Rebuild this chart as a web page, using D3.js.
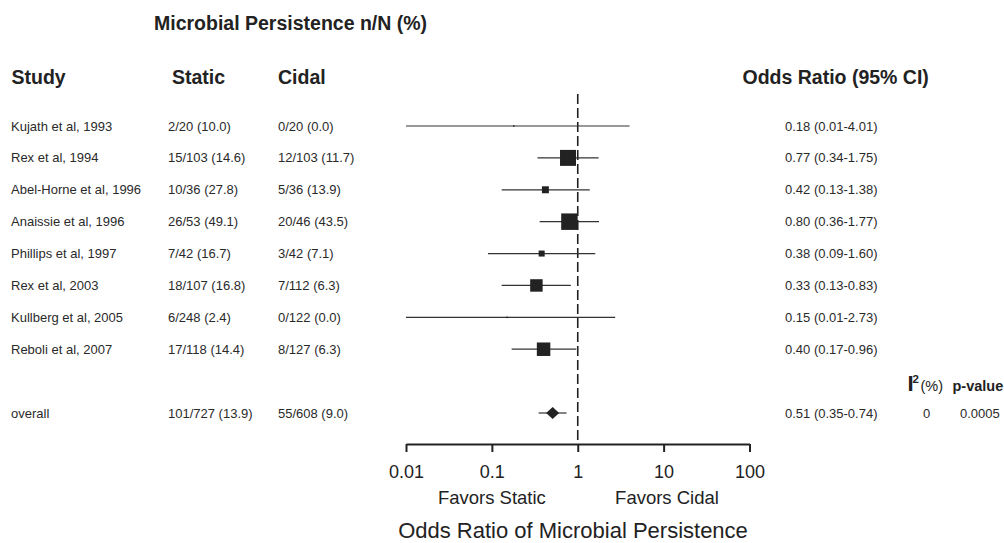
<!DOCTYPE html>
<html>
<head>
<meta charset="utf-8">
<script src="https://cdn.jsdelivr.net/npm/d3@7"></script>
<style>
  html, body { margin: 0; padding: 0; background: #fff; }
  svg { display: block; font-family: "Liberation Sans", Arial, Helvetica, sans-serif; }
</style>
</head>
<body>
<svg id="chart" width="1004" height="543"></svg>
<script>
// ---------- data ----------
const studies = ["Kujath et al, 1993", "Rex et al, 1994", "Abel-Horne et al, 1996", "Anaissie et al, 1996",
                 "Phillips et al, 1997", "Rex et al, 2003", "Kullberg et al, 2005", "Reboli et al, 2007"];
const staticVals = ["2/20 (10.0)", "15/103 (14.6)", "10/36 (27.8)", "26/53 (49.1)",
                    "7/42 (16.7)", "18/107 (16.8)", "6/248 (2.4)", "17/118 (14.4)"];
const cidalVals = ["0/20 (0.0)", "12/103 (11.7)", "5/36 (13.9)", "20/46 (43.5)",
                   "3/42 (7.1)", "7/112 (6.3)", "0/122 (0.0)", "8/127 (6.3)"];
const oddsRatio = [0.18, 0.77, 0.42, 0.80, 0.38, 0.33, 0.15, 0.40];
const ciLow     = [0.01, 0.34, 0.13, 0.36, 0.09, 0.13, 0.01, 0.17];
const ciHigh    = [4.01, 1.75, 1.38, 1.77, 1.60, 0.83, 2.73, 0.96];
const weights   = [0.2, 26.8, 5.1, 28.5, 3.8, 16.3, 0.2, 19.1];   // % weight (box area)

const overallLabel = "overall";
const overallStatic = "101/727 (13.9)";
const overallCidal = "55/608 (9.0)";
const overallOR = 0.51, overallLow = 0.35, overallHigh = 0.74;
const overallI2 = "0";
const overallP = "0.0005";

const tickValues = [0.01, 0.1, 1, 10, 100];
const tickLabels = ["0.01", "0.1", "1", "10", "100"];

// ---------- layout ----------
const svg = d3.select("#chart");
const ink = "#222";
const x = d3.scaleLog().domain([0.01, 100]).range([406, 749.5]);
const rowY = d3.scaleLinear().domain([0, 9]).range([126, 413]);
const boxSize = d3.scaleSqrt().domain([0, 30]).range([0, 16.9]);
const axisY = 444;

const colStudy = 11, colStatic = 168, colCidal = 278, colOR = 785;

// headers
svg.append("text").attr("x", 154).attr("y", 29.5)
  .attr("font-size", 19.5).attr("font-weight", "bold").attr("fill", ink)
  .text("Microbial Persistence n/N (%)");
[["Study", colStudy + 0.5], ["Static", 172], ["Cidal", colCidal]].forEach(([t, xx]) => {
  svg.append("text").attr("x", xx).attr("y", 83.5)
    .attr("font-size", 19.5).attr("font-weight", "bold").attr("fill", ink).text(t);
});
svg.append("text").attr("x", 742.5).attr("y", 83.5)
  .attr("font-size", 19.5).attr("font-weight", "bold").attr("fill", ink)
  .text("Odds Ratio (95% CI)");

// I2 / p-value header
const h = svg.append("g").attr("fill", ink);
h.append("text").attr("x", 907.5).attr("y", 391).attr("font-size", 22).attr("font-weight", "bold").text("I");
h.append("text").attr("x", 912.5).attr("y", 382.5).attr("font-size", 11.5).attr("font-weight", "bold").text("2");
h.append("text").attr("x", 920.5).attr("y", 391).attr("font-size", 14.5).text("(%)");
h.append("text").attr("x", 952.5).attr("y", 391).attr("font-size", 14.5).attr("font-weight", "bold").text("p-value");

// study rows text
const fmt = d3.format(".2f");
const rows = svg.append("g").attr("font-size", 13).attr("fill", "#2a2a2a");
studies.forEach((s, i) => {
  const y = rowY(i) + 4.6;
  rows.append("text").attr("x", colStudy).attr("y", y).text(s);
  rows.append("text").attr("x", colStatic).attr("y", y).text(staticVals[i]);
  rows.append("text").attr("x", colCidal).attr("y", y).text(cidalVals[i]);
  rows.append("text").attr("x", colOR).attr("y", y)
    .text(`${fmt(oddsRatio[i])} (${fmt(ciLow[i])}-${fmt(ciHigh[i])})`);
});
const oy = rowY(9) + 4.6;
rows.append("text").attr("x", colStudy).attr("y", oy).text(overallLabel);
rows.append("text").attr("x", colStatic).attr("y", oy).text(overallStatic);
rows.append("text").attr("x", colCidal).attr("y", oy).text(overallCidal);
rows.append("text").attr("x", colOR).attr("y", oy)
  .text(`${fmt(overallOR)} (${fmt(overallLow)}-${fmt(overallHigh)})`);
rows.append("text").attr("x", 926.5).attr("y", oy).attr("text-anchor", "middle").text(overallI2);
rows.append("text").attr("x", 960).attr("y", oy).text(overallP);

// reference line at OR = 1
svg.append("line")
  .attr("x1", x(1)).attr("x2", x(1)).attr("y1", 94).attr("y2", axisY)
  .attr("stroke", ink).attr("stroke-width", 1.6).attr("stroke-dasharray", "10,4");

// CI lines and boxes
const marks = svg.append("g");
studies.forEach((s, i) => {
  const y = rowY(i);
  marks.append("line")
    .attr("x1", x(ciLow[i])).attr("x2", x(ciHigh[i]))
    .attr("y1", y).attr("y2", y)
    .attr("stroke", "#333").attr("stroke-width", 1.2);
  const b = Math.max(boxSize(weights[i]), 1.5);
  marks.append("rect")
    .attr("x", x(oddsRatio[i]) - b / 2).attr("y", y - b / 2)
    .attr("width", b).attr("height", b).attr("fill", ink);
});

// overall diamond
const yo = rowY(9);
marks.append("line")
  .attr("x1", x(overallLow)).attr("x2", x(overallHigh))
  .attr("y1", yo).attr("y2", yo)
  .attr("stroke", "#333").attr("stroke-width", 1.2);
const cx = x(overallOR);
marks.append("path")
  .attr("d", `M${cx - 6.5},${yo} L${cx},${yo - 6} L${cx + 6.5},${yo} L${cx},${yo + 6} Z`)
  .attr("fill", ink);

// axis
const axis = d3.axisBottom(x)
  .tickValues(tickValues)
  .tickFormat((d, i) => tickLabels[i])
  .tickSize(8).tickSizeOuter(0).tickPadding(13);
const ax = svg.append("g").attr("transform", `translate(0,${axisY})`).call(axis);
ax.select(".domain").attr("stroke", ink).attr("stroke-width", 2);
ax.selectAll(".tick line").attr("stroke", ink).attr("stroke-width", 2);
ax.selectAll(".tick text").attr("font-size", 18).attr("fill", ink)
  .attr("font-family", "'Liberation Sans', Arial, sans-serif");

svg.append("text").attr("x", x(0.1)).attr("y", 503.5).attr("text-anchor", "middle")
  .attr("font-size", 18.5).attr("fill", ink).text("Favors Static");
svg.append("text").attr("x", 667).attr("y", 503.5).attr("text-anchor", "middle")
  .attr("font-size", 18.5).attr("fill", ink).text("Favors Cidal");
svg.append("text").attr("x", 573).attr("y", 537.5).attr("text-anchor", "middle")
  .attr("font-size", 22).attr("fill", ink).text("Odds Ratio of Microbial Persistence");
</script>
</body>
</html>
